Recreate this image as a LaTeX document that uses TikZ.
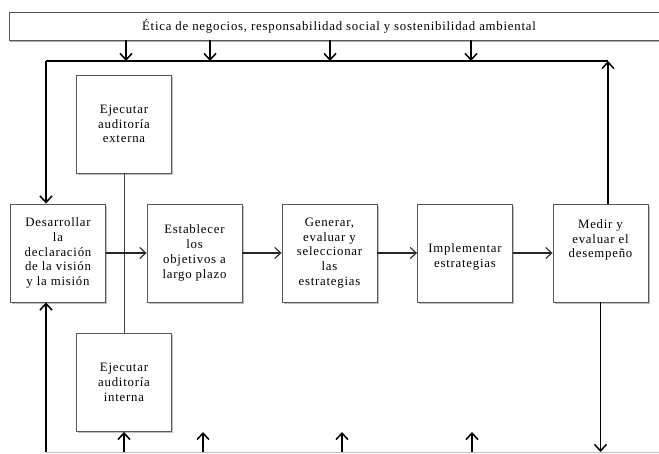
\documentclass[tikz,border=0pt]{standalone}
\usepackage{fontspec}
\setmainfont{Liberation Serif}
\newfontfamily\boxfont[LetterSpace=6]{Liberation Serif}
\usetikzlibrary{arrows.meta,shadows}
\begin{document}
\begin{tikzpicture}[x=1pt,y=-1pt,
  box/.style={draw=black!65, line width=0.9pt, fill=white, minimum width=95pt, minimum height=98pt,
    align=center, inner sep=1pt, font=\boxfont\fontsize{12.8}{14.8}\selectfont,
    drop shadow={shadow xshift=1.5pt, shadow yshift=-1.5pt, fill=black, opacity=0.25}},
  bannerbox/.style={draw=black!65, line width=0.9pt, fill=white,
    drop shadow={shadow xshift=1pt, shadow yshift=-2pt, fill=black, opacity=0.3}},
  fb/.style={draw=black, line width=1.5pt, -{Straight Barb[length=6.5pt,width=12pt]}},
  fbline/.style={draw=black, line width=1.5pt},
  flow/.style={draw=black!85, line width=1.1pt, -{Straight Barb[length=6pt,width=11pt]}},
  plain/.style={draw=black!75, line width=0.8pt}
]
\useasboundingbox (0,0) rectangle (659,453);
% banner
\draw[bannerbox] (9,12) rectangle (672,40);
\node[font=\boxfont\fontsize{12.8}{14}\selectfont] (banner) at (339,26)
  {Ética de negocios, responsabilidad social y sostenibilidad ambiental};
\coordinate (bannerbot) at (339,40);

% boxes
\node[box] (b1) at (58,253) {Desarrollar\\la\\declaración\\de la visión\\y la misión};
\node[box] (b2) at (194.5,253) {Establecer\\los\\objetivos a\\largo plazo};
\node[box] (b3) at (329.5,253) {Generar,\\evaluar y\\seleccionar\\las\\estrategias};
\node[box] (b4) at (465,253) {\\[2pt]Implementar\\estrategias};
\node[box] (b5) at (600.5,253) {Medir y\\evaluar el\\desempeño\\[14pt]\mbox{}};
\node[box] (ext) at (124,124) {Ejecutar\\auditoría\\externa};
\node[box] (int) at (124,382.5) {Ejecutar\\auditoría\\interna};

% coordinates
\coordinate (TL) at (46,61);
\coordinate (TR) at (608,61);
\coordinate (BL) at (46,452);
\coordinate (BR) at (664,452);
\coordinate (t1) at (126,61);
\coordinate (t2) at (210,61);
\coordinate (t3) at (330,61);
\coordinate (t4) at (471,61);
\coordinate (u2) at (203,432);
\coordinate (u3) at (342,432);
\coordinate (u4) at (472,432);

% bottom light line
\draw[draw=black!25, line width=0.8pt] (BL) -- (BR);

% audit connector
\draw[plain] (ext.south) -- (int.north);

% flow arrows
\draw[flow] (b1) -- (b2);
\draw[flow] (b2) -- (b3);
\draw[flow] (b3) -- (b4);
\draw[flow] (b4) -- (b5);

% top feedback
\draw[fbline] (TL) -- (TR);
\draw[fb] (TL) -- (TL |- b1.north);
\draw[fb] (TR |- b5.north) -- (TR);
\foreach \t in {t1,t2,t3,t4} {\draw[fb] (\t |- bannerbot) -- (\t);}

% bottom feedback
\draw[fb] (BL) -- (BL |- b1.south);
\draw[fb] (int.south |- BL) -- (int.south);
\foreach \u in {u2,u3,u4} {\draw[fb] (\u |- BL) -- (\u);}
\draw[fb] (b5.south) -- (b5.south |- BL);
\end{tikzpicture}
\end{document}
